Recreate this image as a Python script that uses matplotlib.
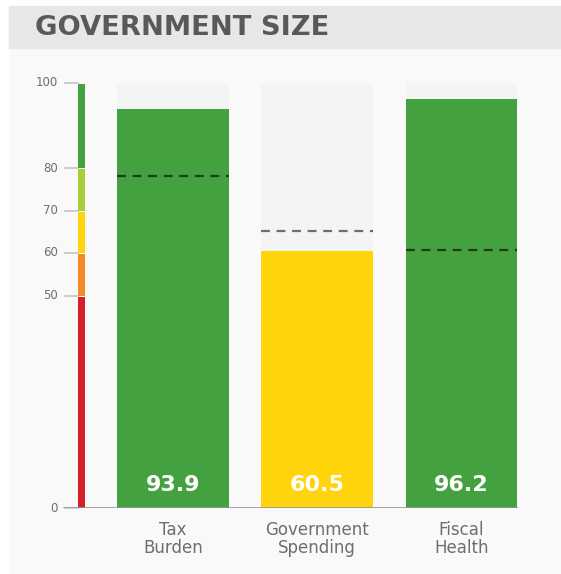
import matplotlib.pyplot as plt
from matplotlib.patches import Rectangle

# data
categories = ['Tax\nBurden', 'Government\nSpending', 'Fiscal\nHealth']
scores = [93.9, 60.5, 96.2]
averages = [78.1, 65.2, 60.8]
bar_colors = ['#43a23f', '#ffd40b', '#43a23f']
avg_colors = ['#1f3a1f', '#6d6e71', '#1f3a1f']

band_edges = [0, 50, 60, 70, 80, 100]
band_colors = ['#d42027', '#f58a2b', '#ffd40b', '#a6ce39', '#43a23f']
tick_values = [0, 50, 60, 70, 80, 100]

W, H = 561, 574
fig = plt.figure(figsize=(W / 100, H / 100), dpi=100)
fig.patch.set_facecolor('white')

# background panels
fig.patches.append(Rectangle((9 / W, 0), 1 - 9 / W, (H - 48) / H,
                             transform=fig.transFigure, color='#f9f9f9', zorder=-5))
fig.patches.append(Rectangle((9 / W, (H - 48) / H), 1 - 9 / W, 42 / H,
                             transform=fig.transFigure, color='#e6e7e8', zorder=-5))
fig.text(35 / W, (H - 28) / H, 'GOVERNMENT SIZE', fontsize=19.7, fontweight='bold',
         color='#58595b', va='center', ha='left', family='DejaVu Sans')

ax = fig.add_axes([0, (H - 508) / H, 1, 425 / H])
ax.set_zorder(2)
ax.set_facecolor('none')
x_px = lambda p: (p - 173) / 144.25
ax.set_xlim(x_px(0), x_px(W))
ax.set_ylim(0, 100)
ax.axis('off')

x = list(range(len(categories)))
bw = 0.776
ax.bar(x, [100] * len(x), width=bw, color='#f3f4f4', zorder=1)
ax.bar(x, scores, width=bw, color=bar_colors, zorder=2)
ax.hlines(averages, [i - bw / 2 for i in x], [i + bw / 2 for i in x],
          colors=avg_colors, linestyles=(0, (4, 3)), linewidth=1.6, zorder=3)

for i, v in enumerate(scores):
    ax.text(i, 5.4, f'{v}', color='white', fontsize=16, fontweight='bold',
            ha='center', va='center', zorder=4)
    ax.text(i, -7.3, categories[i], color='#6d6e71', fontsize=12,
            ha='center', va='center', linespacing=0.95, clip_on=False)

# colour scale strip
sx = x_px(81.5)
sw = 7 / 144.25
for lo, hi, c in zip(band_edges[:-1], band_edges[1:], band_colors):
    ax.bar(sx, hi - lo - 0.25, bottom=lo, width=sw, color=c, zorder=2)

# ticks and labels
for t in tick_values:
    ax.plot([x_px(65), x_px(78)], [t, t], color='#c4c6c8', linewidth=1.2,
            clip_on=False, zorder=1)
    ax.text(x_px(58), t, str(t), color='#6d6e71', fontsize=8.5,
            ha='right', va='center')

ax.plot([x_px(64), x_px(517)], [0, 0], color='#939598', linewidth=1.2, zorder=3)

fig.savefig('out.png', dpi=100, facecolor=fig.get_facecolor())
